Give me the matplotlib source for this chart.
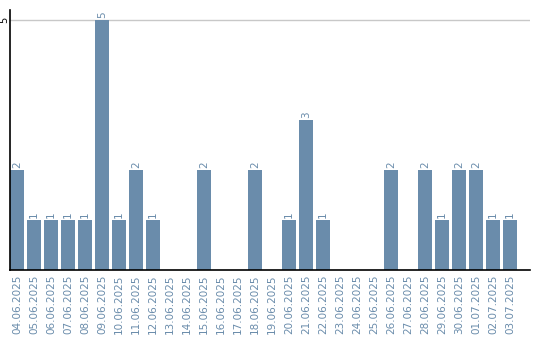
import numpy as np
import matplotlib
matplotlib.use("Agg")
import matplotlib.pyplot as plt

# dates and counts
dates = ["04.06.2025", "05.06.2025", "06.06.2025", "07.06.2025", "08.06.2025",
         "09.06.2025", "10.06.2025", "11.06.2025", "12.06.2025", "13.06.2025",
         "14.06.2025", "15.06.2025", "16.06.2025", "17.06.2025", "18.06.2025",
         "19.06.2025", "20.06.2025", "21.06.2025", "22.06.2025", "23.06.2025",
         "24.06.2025", "25.06.2025", "26.06.2025", "27.06.2025", "28.06.2025",
         "29.06.2025", "30.06.2025", "01.07.2025", "02.07.2025", "03.07.2025"]
counts = [2, 1, 1, 1, 1, 5, 1, 2, 1, 0,
          0, 2, 0, 0, 2, 0, 1, 3, 1, 0,
          0, 0, 2, 0, 2, 1, 2, 2, 1, 1]

bar_color = "#6a8cab"
bar_w = 14 / 17

fig = plt.figure(figsize=(5.4, 3.4), dpi=100)
ax = fig.add_axes([10 / 540, 70 / 340, 520 / 540, 260 / 340])

x = np.arange(len(dates))
ax.bar(x, counts, width=bar_w, align="edge", color=bar_color, zorder=2)

# value labels above the bars
for xi, v in zip(x, counts):
    if v > 0:
        ax.text(xi + bar_w / 2, v + 0.04, str(v), rotation=90, ha="center",
                va="bottom", fontsize=7.5, color=bar_color)

ax.set_xlim(0, 520 / 17)
ax.set_ylim(0, 5.2)

ax.axhline(5, color="#c8c8c8", lw=1, zorder=1)

ax.set_xticks(x + bar_w / 2)
ax.set_xticklabels(dates, rotation=90, fontsize=7.5, color=bar_color)
ax.set_yticks([5])
ax.set_yticklabels(["5"], rotation=90, fontsize=7, va="center", ha="center")
ax.tick_params(axis="both", length=0, pad=3)
ax.tick_params(axis="y", pad=4.3)

for side in ["top", "right"]:
    ax.spines[side].set_visible(False)
ax.spines["left"].set_color("black")
ax.spines["bottom"].set_color("black")
ax.spines["left"].set_linewidth(1.2)
ax.spines["bottom"].set_linewidth(1.2)

fig.savefig("out.png", dpi=100)
